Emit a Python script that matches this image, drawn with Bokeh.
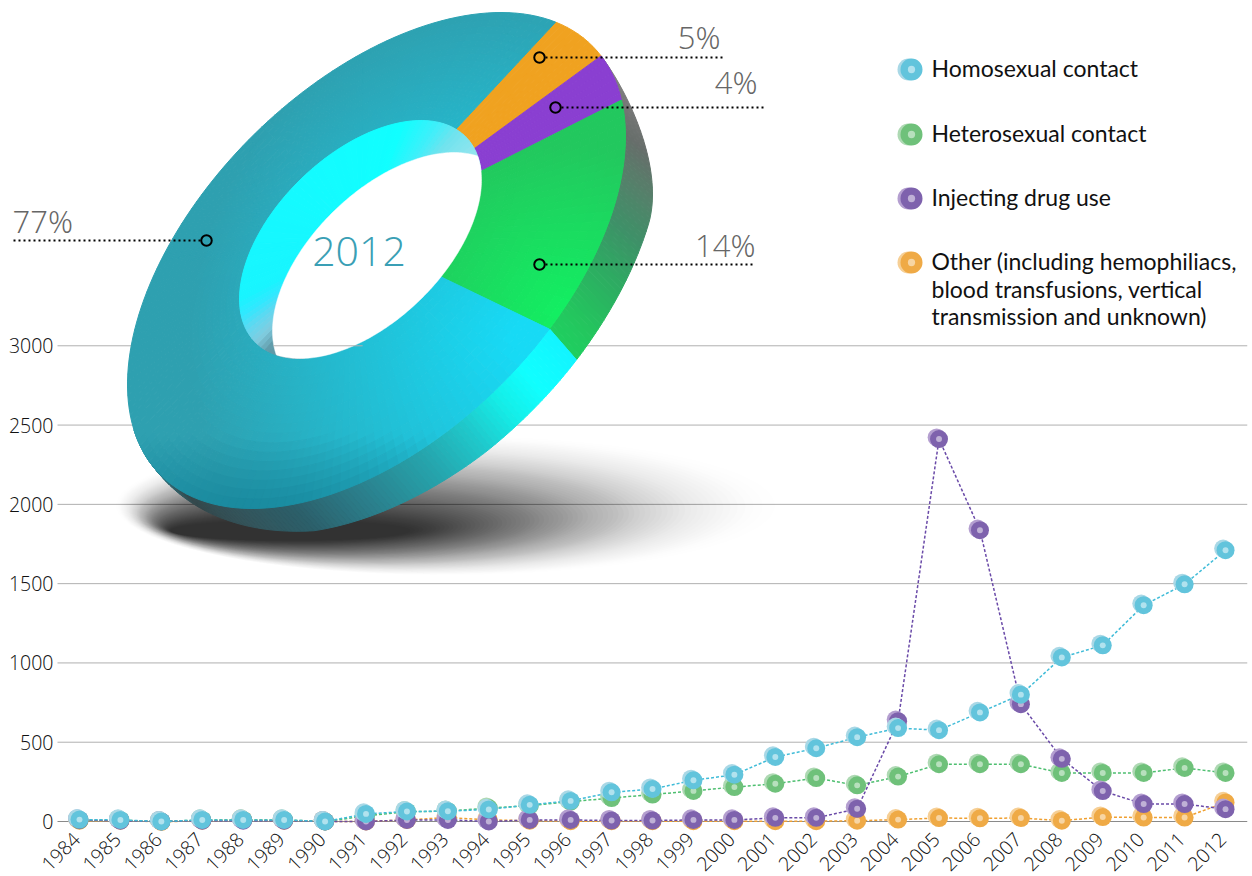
import numpy as np
from bokeh.plotting import figure
from bokeh.embed import file_html
from bokeh.resources import INLINE
from bokeh.core.properties import value
from bokeh.models import FixedTicker, Arrow, Label, CustomJSTickFormatter

years = list(range(1984, 2013))
homosexual = [12, 10, 0, 10, 10, 10, 0, 48, 63, 65, 76, 105, 130, 184, 205, 260, 295, 407, 462, 532, 589, 576, 688, 800, 1035, 1111, 1364, 1496, 1711]
heterosexual = [8, 8, 0, 10, 10, 10, 0, 35, 62, 65, 85, 100, 125, 148, 170, 193, 217, 238, 274, 228, 283, 361, 361, 361, 306, 306, 306, 338, 306]
drug_use = [10, 5, 0, 5, 5, 5, 0, 0, 10, 10, 0, 10, 10, 6, 6, 10, 10, 23, 23, 80, 633, 2412, 1837, 740, 395, 192, 110, 110, 78]
other = [5, 5, -2, 5, 10, 5, 0, 0, 10, 25, 10, 5, 2, 2, 2, 2, 2, 2, 2, 5, 12, 22, 20, 22, 5, 28, 25, 25, 120]
y_ticks = [0, 500, 1000, 1500, 2000, 2500, 3000]

donut_labels = ["5%", "4%", "14%", "77%"]
donut_shares = [5, 4, 14, 77]
donut_year = "2012"
legend_names = ["Homosexual contact", "Heterosexual  contact", "Injecting drug use"]
legend_other = ["Other (including hemophiliacs,", "blood transfusions, vertical", "transmission and unknown)"]

W_PAGE, H_PAGE = 1252, 876
L, R, B = 57, 1247, 832
SX, SY = 40.93, 0.15857


def X(px):
    return 1984 + (np.asarray(px, float) - 79) / SX


def Y(py):
    return (821 - np.asarray(py, float)) / SY


p = figure(width=W_PAGE, height=H_PAGE, output_backend="svg", toolbar_location=None,
           x_range=(float(X(0)), float(X(R))), y_range=(float(Y(H_PAGE)), float(Y(0))),
           min_border_left=0, min_border_right=W_PAGE - R, min_border_top=0,
           min_border_bottom=0, outline_line_color=None, background_fill_color="white")

p.grid.visible = False
for ax in (p.xaxis[0], p.yaxis[0]):
    ax.axis_line_color = None
    ax.major_tick_line_color = None
    ax.minor_tick_line_color = None
    ax.major_tick_out = 0
    ax.major_tick_in = 0
    ax.major_label_text_font = "Open Sans Light, Open Sans"
    ax.major_label_text_font_size = "19.5px"
    ax.major_label_text_color = "#111111"
p.yaxis[0].ticker = FixedTicker(ticks=y_ticks)
p.yaxis[0].major_label_standoff = 4
p.yaxis[0].fixed_location = float(X(L))
p.xaxis[0].ticker = FixedTicker(ticks=[y - 0.08 for y in years])
p.xaxis[0].formatter = CustomJSTickFormatter(code="return String(Math.round(tick))")
p.xaxis[0].major_label_orientation = np.pi / 4
p.xaxis[0].major_label_standoff = 3
p.xaxis[0].fixed_location = float(Y(B))

# ---------- horizontal rules
p.segment(X([L] * 6).tolist(), y_ticks[1:], X([R] * 6).tolist(), y_ticks[1:], line_color="#b0b0b0", line_width=1)
p.segment([float(X(L))], [0], [float(X(R))], [0], line_color="#8a8a8a", line_width=1)

# ---------- soft shadow below the donut
sh_x, sh_y, sh_a = [], [], []
n_sh = 70
for i in range(n_sh):
    u = i / (n_sh - 1)
    cx = 445 + (290 - 445) * u ** 0.8
    cy = 505 + (530 - 505) * u
    rx = 330 + (120 - 330) * u ** 0.8
    ry = 70 + (10 - 70) * u
    a = np.linspace(0, 2 * np.pi, 80)
    sh_x.append(X(cx + rx * np.cos(a)).tolist())
    sh_y.append(Y(cy + ry * np.sin(a)).tolist())
    sh_a.append(0.005 + 0.03 * u)
p.patches(sh_x, sh_y, fill_color="#000000", fill_alpha=sh_a, line_color=None)


# ---------- donut geometry
def hexrgb(h):
    return np.array([int(h[i:i + 2], 16) for i in (1, 3, 5)], float)


def rgbhex(c):
    c = np.clip(np.round(c), 0, 255).astype(int)
    return "#%02x%02x%02x" % tuple(c)


def mix(a, b, f):
    f = float(np.clip(f, 0, 1))
    return hexrgb(a) * (1 - f) + hexrgb(b) * f


D = np.radians(60)


def ell(cx, cy, w, h, t):
    t = np.radians(t)
    return cx + w * np.cos(t), cy - h * np.cos(t - D)


def outer(t):
    return ell(376, 260, 249, 248, t)


def inner(t):
    return ell(360, 239, 121, 119, t)


def warp(theta, k):
    return theta + k * (1 - np.cos(np.radians(theta)))


def t_color(t, table):
    ts = [a[0] for a in table]
    cols = np.array([hexrgb(a[1]) for a in table])
    return np.array([np.interp(t, ts, cols[:, i]) for i in range(3)])


def big_color(px, py):
    d = np.hypot(px - 530, py - 340)
    c = mix("#17daf5", "#2ea0b0", (d - 20) / 320)
    f = np.clip((py - 435) / 75, 0, 1) * 0.85
    return c * (1 - f) + hexrgb("#14849a") * f


def green_color(px, py):
    d = np.hypot(px - 565, py - 315)
    return mix("#12f062", "#22c85e", d / 170)


wall_table = [(-160, "#2a8fa0"), (-140, "#34484c"), (-125, "#34545a"), (-110, "#2c5f6a"), (-95, "#2b7f8c"),
              (-80, "#25a5ad"), (-70, "#1fc9cc"), (-62, "#14eee8"), (-55, "#10ffff"), (-46.5, "#12f5ff"),
              (-46.4, "#1ed060"), (-40, "#24c45e"), (-30, "#2dab62"), (-20, "#3f9068"), (-10, "#55806a"),
              (0, "#666e6a"), (10, "#777777"), (25, "#8a8a8a")]
hole_table = [(5, "#a8e6ee"), (37, "#6fe3ee"), (50, "#3eeffa"), (70, "#10ffff"), (180, "#18f5ff"),
              (190, "#30e8ff"), (200, "#60d8f0"), (210, "#80cce0"), (220, "#5f9aa8"), (240, "#5f9aa8")]

# side wall of the ring
wx, wy, wc = [], [], []
ts = np.arange(25, -168, -1.0)


def offs(t):
    u = np.clip((25 - t) / 40, 0, 1)
    s = u * u * (3 - 2 * u)
    if t < -110:
        s *= np.clip((t + 165) / 55, 0, 1)
    dx = np.interp(t, [-120, -46, -15, 25], [22, 27, 32, 32])
    dy = np.interp(t, [-110, -70, -46, -15, 25], [26, 31, 31, 26, 26])
    return dx * s, dy * s


for a, b in zip(ts[:-1], ts[1:]):
    ax_, ay_ = outer(a)
    bx_, by_ = outer(b)
    oa, ob = offs(a), offs(b)
    xs = [ax_, bx_, bx_ + ob[0], ax_ + oa[0]]
    ys = [ay_, by_, by_ + ob[1], ay_ + oa[1]]
    wx.append(X(xs).tolist())
    wy.append(Y(ys).tolist())
    wc.append(rgbhex(t_color((a + b) / 2, wall_table)))
p.patches(wx, wy, fill_color=wc, line_color=wc, line_width=1)

# top face of the ring: each slice follows its share of the circle
th_edges = np.cumsum([0] + [s * 3.6 for s in donut_shares])
flat = {"5%": "#f0a220", "4%": "#8a3fd1"}
fx, fy, fc = [], [], []
for lab, a0, a1 in zip(donut_labels, th_edges[:-1], th_edges[1:]):
    n = max(2, int((a1 - a0) / 2))
    steps = np.linspace(a0, a1, n + 1)
    rs = np.linspace(0, 1, 2 if lab in flat else 17)
    for s0, s1 in zip(steps[:-1], steps[1:]):
        o0 = outer(44 - warp(s0, 8.3))
        o1 = outer(44 - warp(s1, 8.3))
        i0 = inner(38 - warp(s0, 4))
        i1 = inner(38 - warp(s1, 4))
        for r0, r1 in zip(rs[:-1], rs[1:]):
            xs = [i0[0] + (o0[0] - i0[0]) * r0, i1[0] + (o1[0] - i1[0]) * r0,
                  i1[0] + (o1[0] - i1[0]) * r1, i0[0] + (o0[0] - i0[0]) * r1]
            ys = [i0[1] + (o0[1] - i0[1]) * r0, i1[1] + (o1[1] - i1[1]) * r0,
                  i1[1] + (o1[1] - i1[1]) * r1, i0[1] + (o0[1] - i0[1]) * r1]
            fx.append(X(xs).tolist())
            fy.append(Y(ys).tolist())
            if lab in flat:
                fc.append(flat[lab])
            elif lab == "77%":
                fc.append(rgbhex(big_color(np.mean(xs), np.mean(ys))))
            else:
                fc.append(rgbhex(green_color(np.mean(xs), np.mean(ys))))
p.patches(fx, fy, fill_color=fc, line_color=fc, line_width=1)

# inner wall of the hole, then the see-through part
hx, hy, hc = [], [], []
ts = np.arange(5, 240, 3.0)
for a, b in zip(ts, ts + 3):
    pa, pb = inner(a), inner(b)
    hx.append(X([360, pa[0], pb[0]]).tolist())
    hy.append(Y([239, pa[1], pb[1]]).tolist())
    hc.append(rgbhex(t_color((a + b) / 2, hole_table)))
p.patches(hx, hy, fill_color=hc, line_color=hc, line_width=1)


def inside(px, py, cx, cy, w, h):
    u = (px - cx) / w
    v = (cy - py) / h
    return (u ** 2 - 2 * u * v * np.cos(D) + v ** 2) / np.sin(D) ** 2 <= 1


a = np.arange(0, 360, 1.0)
x1, y1 = ell(360, 239, 121, 119, a)
x2, y2 = ell(393, 271, 121, 119, a)
m1 = inside(x1, y1, 393, 271, 121, 119)
m2 = inside(x2, y2, 360, 239, 121, 119)
wxs = np.concatenate([x1[m1], x2[m2]])
wys = np.concatenate([y1[m1], y2[m2]])
o = np.argsort(np.arctan2(wys - wys.mean(), wxs - wxs.mean()))
p.patch(X(wxs[o]).tolist(), Y(wys[o]).tolist(), fill_color="white", line_color="white", line_width=0.5)
# the 3000 rule shows through the hole
row = np.abs(Y(wys) - 3000) < 30
p.line(X([wxs[row].min(), wxs[row].max()]).tolist(), [3000, 3000], line_color="#b0b0b0", line_width=1)

# ---------- series
series = [
    (other, "#f0a030", "#efaa46", "#f6cf95"),
    (heterosexual, "#4ebf70", "#6fc17a", "#aed9b3"),
    (drug_use, "#6a4aa8", "#7e62ad", "#b49fd0"),
    (homosexual, "#40bcd8", "#62c4dc", "#a9d8e6"),
]


def bead(xs, ys, front, back, size=18.0, dx=2.4, dy=1.6):
    xs = np.asarray(xs, float)
    ys = np.asarray(ys, float)
    p.scatter(xs - dx / SX, ys + dy / SY, size=size, fill_color=back, line_color=None)
    p.scatter(xs, ys, size=size, fill_color=front, line_color=None)
    p.scatter(xs, ys, size=size * 0.33, fill_color="white", fill_alpha=0.5, line_color=None)


for vals, lc, front, back in series:
    p.line(years, vals, line_color=lc, line_width=1.5, line_dash="3 2")
    bead(years, vals, front, back)

# ---------- legend
legend_rows = [69, 134, 198, 262]
legend_cols = [series[3], series[1], series[2], series[0]]
for py, s in zip(legend_rows, legend_cols):
    bead([X(911)], [Y(py)], s[2], s[3], size=22, dx=3, dy=0)
font_leg = value("Lato")
for py, t in zip(legend_rows[:3], legend_names):
    p.text([X(931)], [Y(py - 1.5)], text=[t], text_font=font_leg, text_font_size="23px", text_color="#111111",
           text_baseline="middle", text_align="left")
for py, t in zip([260.5, 288, 315.5], legend_other):
    p.text([X(931)], [Y(py)], text=[t], text_font=font_leg, text_font_size="23px", text_color="#111111",
           text_baseline="middle", text_align="left")

# ---------- donut callouts
call_font = "Open Sans Light, Open Sans"
callouts = [("5%", 539, 57, 722, 720, 36), ("4%", 555, 107, 763, 757, 81),
            ("14%", 539, 264, 755, 755, 244), ("77%", 206, 240, 12, 12, 220)]
for lab, rx_, ry_, ex, tx, ty in callouts:
    side = 6 if ex > rx_ else -6
    p.add_layout(Arrow(end=None, x_start=float(X(rx_ + side)), y_start=float(Y(ry_)), x_end=float(X(ex)), y_end=float(Y(ry_)),
                       line_color="black", line_width=2, line_dash="2 3"))
    p.scatter([X(rx_)], [Y(ry_)], size=10.5, fill_color=None, line_color="black", line_width=2)
    p.add_layout(Label(x=float(X(tx)), y=float(Y(ty)), text=lab, text_font=call_font, text_font_size="31px",
                       text_color="#666666", text_baseline="middle",
                       text_align="left" if lab == "77%" else "right"))
p.text([X(358.5)], [Y(251)], text=[donut_year], text_font=value(call_font), text_font_size="41px",
       text_color="#3a9fb5", text_align="center", text_baseline="middle")

open("out.html", "w").write(file_html(p, INLINE))
